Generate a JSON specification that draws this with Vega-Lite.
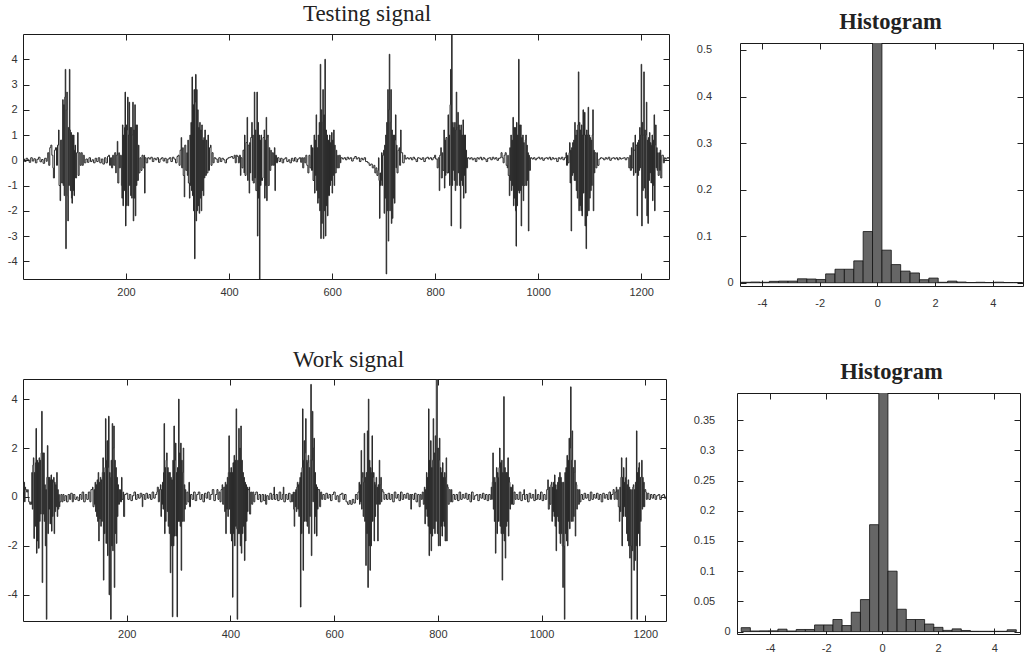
{
"$schema": "https://vega.github.io/schema/vega-lite/v6.json",
"background": "white",
"padding": {"left": 6, "top": 0, "right": 2, "bottom": 0},
"config": {
  "view": {"stroke": "#1a1a1a", "strokeWidth": 1},
  "axis": {"grid": false, "domain": false, "tickSize": -6, "tickColor": "#222", "tickWidth": 1, "labelFont": "Liberation Sans", "labelFontSize": 11, "labelColor": "#333", "title": null, "labelPadding": 12},
  "title": {"font": "Liberation Serif", "fontSize": 23, "fontWeight": "normal", "color": "#222"}
},
"datasets": {
"testing": [
{"x":0,"y":0.05},{"x":3,"y":-0.05},{"x":6,"y":0.08},{"x":9,"y":0.02},{"x":12,"y":-0.08},{"x":15,"y":0.1},{"x":18,"y":-0.03},{"x":21,"y":0.06},{"x":24,"y":-0.1},{"x":27,"y":0.04},{"x":30,"y":0.12},{"x":33,"y":-0.06},{"x":36,"y":0.03},{"x":39,"y":-0.12},{"x":42,"y":0.08},{"x":45,"y":-0.04},{"x":47,"y":0.1},
{"x":48,"y":0.3},{"x":50,"y":-0.2},{"x":52,"y":0.5},{"x":54,"y":0.6},{"x":56,"y":0.2},{"x":58,"y":-0.3},{"x":59,"y":-0.7},{"x":61,"y":0.4},{"x":63,"y":0.5},{"x":65,"y":-0.2},{"x":67,"y":0.6},{"x":69,"y":1.2},{"x":70,"y":-1.0},{"x":72,"y":-1.6},{"x":73,"y":0.8},{"x":75,"y":-0.9},{"x":77,"y":2.4},{"x":78,"y":-1.0},{"x":79,"y":2.2},{"x":80,"y":-1.4},{"x":81,"y":2.5},{"x":82,"y":3.6},{"x":83,"y":-3.5},{"x":84,"y":2.0},{"x":85,"y":2.7},{"x":86,"y":-1.4},{"x":87,"y":-2.4},{"x":88,"y":1.3},{"x":89,"y":-1.0},{"x":90,"y":3.6},{"x":91,"y":1.2},{"x":92,"y":-1.2},{"x":93,"y":1.1},{"x":94,"y":-1.5},{"x":95,"y":-1.7},{"x":96,"y":1.0},{"x":97,"y":-1.2},{"x":98,"y":1.0},{"x":99,"y":-1.4},{"x":100,"y":0.4},{"x":101,"y":0.6},{"x":102,"y":-0.7},{"x":104,"y":0.3},{"x":106,"y":1.1},{"x":107,"y":-0.6},{"x":109,"y":0.3},{"x":111,"y":-0.2},{"x":113,"y":0.3},{"x":115,"y":-0.2},{"x":117,"y":0.2},{"x":119,"y":-0.1},
{"x":122,"y":0.05},{"x":125,"y":-0.08},{"x":128,"y":0.1},{"x":131,"y":-0.05},{"x":134,"y":0.02},{"x":137,"y":-0.1},{"x":140,"y":0.08},{"x":143,"y":-0.05},
{"x":146,"y":0.1},{"x":149,"y":-0.1},{"x":152,"y":0.05},{"x":155,"y":-0.15},{"x":158,"y":0.1},{"x":161,"y":-0.1},{"x":164,"y":0.15},{"x":166,"y":0.2},{"x":168,"y":-0.2},{"x":170,"y":0.1},{"x":172,"y":-0.3},{"x":174,"y":0.2},{"x":176,"y":-0.2},{"x":178,"y":0.3},{"x":180,"y":-0.5},{"x":181,"y":0.2},{"x":183,"y":0.75},{"x":184,"y":-0.9},{"x":186,"y":0.3},{"x":187,"y":-0.3},{"x":189,"y":0.2},{"x":191,"y":-1.0},{"x":192,"y":-1.5},{"x":193,"y":1.4},{"x":194,"y":-1.8},{"x":195,"y":1.0},{"x":196,"y":-1.2},{"x":197,"y":1.3},{"x":198,"y":2.7},{"x":199,"y":-2.6},{"x":200,"y":1.4},{"x":201,"y":-1.8},{"x":202,"y":1.2},{"x":203,"y":2.5},{"x":204,"y":-1.8},{"x":205,"y":1.0},{"x":206,"y":2.3},{"x":207,"y":-1.0},{"x":208,"y":1.3},{"x":209,"y":-1.4},{"x":210,"y":1.3},{"x":211,"y":-1.5},{"x":212,"y":1.0},{"x":213,"y":2.3},{"x":214,"y":-2.4},{"x":215,"y":1.2},{"x":216,"y":-1.5},{"x":217,"y":2.2},{"x":218,"y":-2.2},{"x":219,"y":1.4},{"x":220,"y":-1.0},{"x":221,"y":1.4},{"x":222,"y":-0.8},{"x":224,"y":0.6},{"x":225,"y":-0.5},{"x":227,"y":0.1},{"x":229,"y":-0.4},{"x":231,"y":0.2},{"x":233,"y":-0.3},{"x":235,"y":0.2},{"x":236,"y":-1.3},{"x":237,"y":0.1},{"x":239,"y":-0.1},
{"x":242,"y":0.1},{"x":245,"y":0.05},{"x":248,"y":0.12},{"x":251,"y":-0.05},{"x":254,"y":0.08},{"x":257,"y":0.02},{"x":260,"y":0.1},{"x":263,"y":-0.08},{"x":266,"y":0.05},{"x":269,"y":0.1},{"x":272,"y":-0.03},{"x":275,"y":0.08},{"x":278,"y":-0.1},{"x":281,"y":0.05},{"x":284,"y":0.1},{"x":287,"y":-0.05},{"x":290,"y":0.12},{"x":293,"y":0.05},{"x":296,"y":-0.1},{"x":299,"y":0.15},
{"x":301,"y":0.2},{"x":303,"y":-0.2},{"x":305,"y":0.4},{"x":307,"y":0.9},{"x":308,"y":-0.3},{"x":310,"y":0.5},{"x":311,"y":-0.6},{"x":313,"y":-1.45},{"x":314,"y":0.6},{"x":316,"y":-0.4},{"x":318,"y":0.3},{"x":319,"y":-0.6},{"x":320,"y":0.8},{"x":321,"y":-0.9},{"x":323,"y":-1.5},{"x":324,"y":1.0},{"x":325,"y":-1.0},{"x":326,"y":1.5},{"x":327,"y":-1.2},{"x":328,"y":3.3},{"x":329,"y":-1.4},{"x":330,"y":2.2},{"x":331,"y":-2.0},{"x":332,"y":2.8},{"x":333,"y":-3.9},{"x":334,"y":2.3},{"x":335,"y":3.4},{"x":336,"y":-2.4},{"x":337,"y":2.8},{"x":338,"y":-2.0},{"x":339,"y":2.0},{"x":340,"y":-1.8},{"x":341,"y":1.3},{"x":342,"y":-2.1},{"x":343,"y":1.5},{"x":344,"y":-1.5},{"x":345,"y":1.2},{"x":346,"y":-2.0},{"x":347,"y":1.4},{"x":348,"y":-1.2},{"x":349,"y":0.8},{"x":350,"y":-1.4},{"x":351,"y":0.9},{"x":352,"y":-0.7},{"x":353,"y":1.2},{"x":354,"y":-0.6},{"x":356,"y":0.8},{"x":357,"y":-0.5},{"x":359,"y":1.0},{"x":360,"y":-0.4},{"x":362,"y":0.5},{"x":364,"y":0.6},{"x":365,"y":-0.2},{"x":367,"y":0.3},{"x":369,"y":-0.1},{"x":371,"y":0.1},
{"x":374,"y":0.05},{"x":377,"y":-0.08},{"x":380,"y":0.1},{"x":383,"y":-0.05},{"x":386,"y":0.08},{"x":389,"y":0.02},{"x":392,"y":-0.1},{"x":395,"y":0.05},{"x":398,"y":0.1},{"x":401,"y":0.12},{"x":404,"y":0.15},{"x":407,"y":0.08},
{"x":410,"y":0.2},{"x":412,"y":-0.1},{"x":414,"y":0.2},{"x":416,"y":0.15},{"x":418,"y":-0.1},{"x":420,"y":0.2},{"x":422,"y":-0.6},{"x":423,"y":0.1},{"x":425,"y":-0.3},{"x":427,"y":0.4},{"x":429,"y":-0.5},{"x":430,"y":1.0},{"x":431,"y":-0.6},{"x":433,"y":0.7},{"x":435,"y":1.7},{"x":436,"y":-0.8},{"x":437,"y":0.6},{"x":439,"y":-1.3},{"x":440,"y":0.7},{"x":441,"y":-0.5},{"x":442,"y":0.9},{"x":444,"y":1.5},{"x":445,"y":-0.8},{"x":446,"y":1.0},{"x":447,"y":-0.9},{"x":449,"y":2.7},{"x":450,"y":-0.7},{"x":451,"y":1.2},{"x":452,"y":-1.2},{"x":454,"y":2.7},{"x":455,"y":-3.0},{"x":456,"y":1.5},{"x":457,"y":-1.5},{"x":458,"y":1.0},{"x":459,"y":-4.7},{"x":460,"y":0.8},{"x":461,"y":-1.0},{"x":462,"y":1.0},{"x":463,"y":-0.8},{"x":465,"y":-0.7},{"x":466,"y":0.9},{"x":468,"y":1.2},{"x":469,"y":-1.5},{"x":470,"y":0.8},{"x":471,"y":-1.0},{"x":472,"y":1.7},{"x":473,"y":-1.6},{"x":474,"y":0.9},{"x":475,"y":1.0},{"x":476,"y":-1.0},{"x":478,"y":0.5},{"x":479,"y":-0.4},{"x":481,"y":0.4},{"x":482,"y":-0.2},{"x":484,"y":0.3},{"x":486,"y":-0.2},{"x":488,"y":0.5},{"x":489,"y":-1.2},{"x":490,"y":0.2},{"x":492,"y":-0.1},{"x":494,"y":0.1},
{"x":497,"y":-0.05},{"x":500,"y":0.08},{"x":503,"y":-0.1},{"x":506,"y":0.05},{"x":509,"y":0.1},{"x":512,"y":-0.05},{"x":515,"y":0.02},{"x":518,"y":-0.1},{"x":521,"y":0.08},{"x":524,"y":-0.03},{"x":527,"y":0.1},{"x":530,"y":-0.06},{"x":533,"y":0.05},{"x":536,"y":0.1},{"x":539,"y":-0.08},
{"x":541,"y":0.1},{"x":543,"y":-0.3},{"x":545,"y":0.1},{"x":547,"y":-0.1},{"x":549,"y":0.2},{"x":551,"y":-0.2},{"x":553,"y":-0.5},{"x":555,"y":0.2},{"x":557,"y":-0.3},{"x":559,"y":0.6},{"x":560,"y":-0.4},{"x":562,"y":0.5},{"x":563,"y":-0.8},{"x":565,"y":1.0},{"x":566,"y":-1.3},{"x":567,"y":0.8},{"x":568,"y":-0.6},{"x":569,"y":1.8},{"x":570,"y":-1.2},{"x":571,"y":0.5},{"x":572,"y":-1.7},{"x":573,"y":1.0},{"x":574,"y":-1.5},{"x":575,"y":1.5},{"x":576,"y":-2.0},{"x":577,"y":3.8},{"x":578,"y":-3.1},{"x":579,"y":2.0},{"x":580,"y":-2.5},{"x":581,"y":1.5},{"x":582,"y":2.8},{"x":583,"y":-3.1},{"x":584,"y":1.8},{"x":585,"y":-2.0},{"x":586,"y":4.0},{"x":587,"y":-3.0},{"x":588,"y":1.2},{"x":589,"y":-1.8},{"x":590,"y":1.0},{"x":591,"y":-2.2},{"x":592,"y":0.8},{"x":593,"y":-1.4},{"x":595,"y":1.0},{"x":596,"y":-1.0},{"x":597,"y":0.7},{"x":598,"y":-0.8},{"x":599,"y":1.1},{"x":600,"y":-1.3},{"x":601,"y":0.8},{"x":602,"y":-0.6},{"x":603,"y":1.2},{"x":604,"y":-1.0},{"x":605,"y":0.6},{"x":606,"y":-0.5},{"x":608,"y":0.4},{"x":609,"y":-0.3},{"x":611,"y":0.2},{"x":612,"y":-0.3},{"x":614,"y":0.2},{"x":616,"y":-0.1},{"x":617,"y":0.1},
{"x":620,"y":0.05},{"x":623,"y":0.1},{"x":626,"y":0.02},{"x":629,"y":0.12},{"x":632,"y":0.05},{"x":635,"y":0.1},{"x":638,"y":-0.03},{"x":641,"y":0.08},{"x":644,"y":0.15},{"x":647,"y":0.05},{"x":650,"y":0.1},{"x":653,"y":-0.05},{"x":656,"y":0.08},{"x":659,"y":0.02},{"x":662,"y":0.1},{"x":665,"y":-0.05},
{"x":669,"y":-0.1},{"x":672,"y":-0.2},{"x":675,"y":-0.15},{"x":678,"y":-0.3},{"x":681,"y":-0.2},{"x":683,"y":-0.5},{"x":685,"y":-0.3},{"x":687,"y":-0.6},{"x":689,"y":-0.4},{"x":690,"y":0.1},{"x":691,"y":-0.8},{"x":692,"y":-2.3},{"x":693,"y":-0.5},{"x":694,"y":-1.0},{"x":695,"y":-0.8},{"x":696,"y":0.3},{"x":697,"y":-1.0},{"x":698,"y":0.2},{"x":700,"y":0.4},{"x":701,"y":-2.1},{"x":702,"y":0.6},{"x":703,"y":-1.5},{"x":704,"y":1.0},{"x":705,"y":-4.5},{"x":706,"y":1.5},{"x":707,"y":-2.0},{"x":708,"y":2.8},{"x":709,"y":-3.2},{"x":710,"y":2.0},{"x":711,"y":4.2},{"x":712,"y":-2.0},{"x":713,"y":1.5},{"x":714,"y":2.8},{"x":715,"y":-2.5},{"x":716,"y":1.2},{"x":717,"y":-2.3},{"x":718,"y":1.0},{"x":719,"y":-1.5},{"x":720,"y":1.0},{"x":721,"y":-1.7},{"x":722,"y":0.8},{"x":723,"y":1.8},{"x":724,"y":-0.3},{"x":725,"y":0.6},{"x":726,"y":-0.5},{"x":728,"y":0.4},{"x":730,"y":0.5},{"x":731,"y":-0.2},{"x":733,"y":1.2},{"x":734,"y":0.3},{"x":736,"y":0.3},{"x":737,"y":-0.1},{"x":740,"y":0.2},{"x":742,"y":0.05},{"x":745,"y":0.1},
{"x":748,"y":0.05},{"x":751,"y":0.1},{"x":754,"y":0.02},{"x":757,"y":0.12},{"x":760,"y":0.05},{"x":763,"y":-0.05},{"x":766,"y":0.1},{"x":769,"y":0.08},{"x":772,"y":0.03},{"x":775,"y":0.1},{"x":778,"y":-0.05},{"x":781,"y":0.08},{"x":784,"y":0.12},{"x":787,"y":0.05},{"x":790,"y":0.1},{"x":793,"y":0.02},{"x":796,"y":0.1},
{"x":799,"y":0.2},{"x":801,"y":0.05},{"x":804,"y":-0.3},{"x":806,"y":0.1},{"x":808,"y":-1.2},{"x":809,"y":0.2},{"x":811,"y":0.5},{"x":812,"y":-0.7},{"x":814,"y":0.3},{"x":815,"y":-0.4},{"x":817,"y":1.2},{"x":818,"y":-1.1},{"x":819,"y":0.8},{"x":820,"y":-0.6},{"x":821,"y":0.9},{"x":823,"y":-0.5},{"x":825,"y":1.8},{"x":826,"y":-0.5},{"x":827,"y":1.0},{"x":828,"y":-1.0},{"x":829,"y":2.2},{"x":830,"y":3.6},{"x":831,"y":-2.6},{"x":832,"y":5.0},{"x":833,"y":-1.0},{"x":834,"y":1.5},{"x":835,"y":-0.4},{"x":836,"y":1.3},{"x":837,"y":-0.8},{"x":838,"y":1.5},{"x":839,"y":-1.2},{"x":840,"y":1.2},{"x":841,"y":2.7},{"x":842,"y":-1.0},{"x":843,"y":1.3},{"x":844,"y":1.9},{"x":845,"y":-0.5},{"x":846,"y":1.4},{"x":847,"y":-1.0},{"x":848,"y":1.2},{"x":849,"y":-2.7},{"x":850,"y":1.4},{"x":851,"y":-0.8},{"x":852,"y":1.0},{"x":853,"y":-1.0},{"x":854,"y":1.6},{"x":855,"y":-1.5},{"x":856,"y":1.0},{"x":857,"y":-0.6},{"x":858,"y":1.0},{"x":859,"y":-1.3},{"x":860,"y":0.4},{"x":861,"y":-0.3},{"x":863,"y":0.1},
{"x":866,"y":0.05},{"x":869,"y":0.1},{"x":872,"y":0.02},{"x":875,"y":0.08},{"x":878,"y":-0.05},{"x":881,"y":0.1},{"x":884,"y":0.05},{"x":887,"y":0.12},{"x":890,"y":0.02},{"x":893,"y":0.1},{"x":896,"y":0.05},{"x":899,"y":-0.05},{"x":902,"y":0.08},{"x":905,"y":0.1},{"x":908,"y":0.02},{"x":911,"y":0.12},{"x":914,"y":0.05},{"x":917,"y":0.1},{"x":920,"y":0.0},{"x":923,"y":0.08},{"x":926,"y":0.1},
{"x":928,"y":0.3},{"x":930,"y":0.1},{"x":932,"y":-0.1},{"x":934,"y":0.2},{"x":936,"y":0.3},{"x":938,"y":-0.2},{"x":940,"y":-0.3},{"x":941,"y":0.2},{"x":942,"y":-0.6},{"x":944,"y":-1.4},{"x":945,"y":0.5},{"x":946,"y":-0.8},{"x":947,"y":1.0},{"x":948,"y":-1.2},{"x":949,"y":0.8},{"x":950,"y":-1.0},{"x":951,"y":1.7},{"x":952,"y":-1.8},{"x":953,"y":1.3},{"x":954,"y":-1.5},{"x":955,"y":1.3},{"x":956,"y":-2.0},{"x":957,"y":-3.4},{"x":958,"y":1.5},{"x":959,"y":-1.8},{"x":960,"y":1.0},{"x":961,"y":-1.2},{"x":962,"y":4.0},{"x":963,"y":-1.3},{"x":964,"y":1.4},{"x":965,"y":-1.2},{"x":966,"y":1.4},{"x":967,"y":-2.6},{"x":968,"y":0.9},{"x":969,"y":-1.0},{"x":970,"y":1.0},{"x":971,"y":-1.6},{"x":972,"y":0.7},{"x":973,"y":-1.0},{"x":975,"y":0.8},{"x":976,"y":1.0},{"x":977,"y":-1.0},{"x":978,"y":0.6},{"x":979,"y":-0.8},{"x":980,"y":0.3},{"x":981,"y":-2.8},{"x":982,"y":0.2},{"x":983,"y":-0.4},{"x":985,"y":0.1},
{"x":988,"y":0.05},{"x":991,"y":0.1},{"x":994,"y":0.02},{"x":997,"y":0.08},{"x":1000,"y":0.12},{"x":1003,"y":0.05},{"x":1006,"y":0.1},{"x":1009,"y":0.0},{"x":1012,"y":0.08},{"x":1015,"y":0.1},{"x":1018,"y":0.05},{"x":1021,"y":0.12},{"x":1024,"y":0.02},{"x":1027,"y":0.1},{"x":1030,"y":0.05},{"x":1033,"y":0.08},{"x":1036,"y":-0.05},{"x":1039,"y":0.1},{"x":1042,"y":0.05},{"x":1045,"y":0.12},{"x":1048,"y":0.02},{"x":1051,"y":0.1},
{"x":1054,"y":0.3},{"x":1055,"y":-0.2},{"x":1057,"y":0.2},{"x":1058,"y":-0.1},{"x":1060,"y":0.3},{"x":1061,"y":0.7},{"x":1062,"y":-0.9},{"x":1063,"y":0.4},{"x":1064,"y":-2.8},{"x":1065,"y":0.5},{"x":1066,"y":-0.6},{"x":1067,"y":0.7},{"x":1068,"y":-0.5},{"x":1069,"y":0.8},{"x":1070,"y":-0.8},{"x":1071,"y":1.5},{"x":1072,"y":-0.8},{"x":1073,"y":1.0},{"x":1074,"y":-1.2},{"x":1075,"y":1.2},{"x":1076,"y":-1.5},{"x":1077,"y":1.4},{"x":1078,"y":3.5},{"x":1079,"y":-2.0},{"x":1080,"y":1.5},{"x":1081,"y":-1.8},{"x":1082,"y":1.2},{"x":1083,"y":-2.0},{"x":1084,"y":1.4},{"x":1085,"y":-2.2},{"x":1086,"y":1.0},{"x":1087,"y":2.0},{"x":1088,"y":-1.3},{"x":1089,"y":1.0},{"x":1090,"y":1.9},{"x":1091,"y":-2.6},{"x":1092,"y":1.0},{"x":1093,"y":-3.5},{"x":1094,"y":1.2},{"x":1095,"y":-2.2},{"x":1096,"y":1.0},{"x":1097,"y":2.1},{"x":1098,"y":-2.0},{"x":1099,"y":1.0},{"x":1100,"y":-1.5},{"x":1101,"y":0.9},{"x":1102,"y":-1.2},{"x":1103,"y":0.8},{"x":1104,"y":-1.0},{"x":1105,"y":1.0},{"x":1106,"y":2.0},{"x":1107,"y":-2.0},{"x":1108,"y":0.4},{"x":1109,"y":-0.5},{"x":1110,"y":0.3},{"x":1112,"y":-0.3},{"x":1114,"y":0.3},{"x":1115,"y":-0.2},
{"x":1118,"y":0.05},{"x":1121,"y":0.1},{"x":1124,"y":0.08},{"x":1127,"y":0.02},{"x":1130,"y":0.1},{"x":1133,"y":0.05},{"x":1136,"y":0.12},{"x":1139,"y":0.0},{"x":1142,"y":0.08},{"x":1145,"y":0.1},{"x":1148,"y":0.05},{"x":1151,"y":0.1},{"x":1154,"y":0.02},{"x":1157,"y":0.1},{"x":1160,"y":0.05},{"x":1163,"y":0.08},{"x":1166,"y":0.1},{"x":1169,"y":0.02},{"x":1172,"y":0.1},
{"x":1175,"y":0.1},{"x":1176,"y":-0.3},{"x":1178,"y":0.2},{"x":1179,"y":-0.4},{"x":1181,"y":0.5},{"x":1182,"y":-0.3},{"x":1184,"y":0.7},{"x":1185,"y":-0.6},{"x":1186,"y":0.4},{"x":1188,"y":1.0},{"x":1189,"y":-0.5},{"x":1190,"y":0.6},{"x":1192,"y":-2.2},{"x":1193,"y":0.7},{"x":1194,"y":-0.6},{"x":1195,"y":0.8},{"x":1196,"y":-0.4},{"x":1197,"y":1.3},{"x":1198,"y":-0.3},{"x":1199,"y":1.0},{"x":1200,"y":3.8},{"x":1201,"y":-2.6},{"x":1202,"y":1.5},{"x":1203,"y":-1.2},{"x":1204,"y":1.0},{"x":1205,"y":3.5},{"x":1206,"y":-1.1},{"x":1207,"y":1.2},{"x":1208,"y":-1.5},{"x":1209,"y":1.0},{"x":1210,"y":2.3},{"x":1211,"y":-2.2},{"x":1212,"y":0.8},{"x":1213,"y":-2.5},{"x":1214,"y":0.9},{"x":1215,"y":-0.8},{"x":1216,"y":1.1},{"x":1217,"y":-0.5},{"x":1218,"y":0.7},{"x":1219,"y":-0.9},{"x":1220,"y":0.6},{"x":1221,"y":1.0},{"x":1222,"y":-1.6},{"x":1223,"y":0.8},{"x":1224,"y":-1.0},{"x":1225,"y":1.8},{"x":1226,"y":-2.0},{"x":1227,"y":0.6},{"x":1228,"y":1.4},{"x":1229,"y":-0.3},{"x":1230,"y":0.5},{"x":1231,"y":-0.4},{"x":1232,"y":0.3},{"x":1233,"y":-0.6},{"x":1235,"y":0.3},{"x":1236,"y":-0.4},{"x":1237,"y":0.4},{"x":1238,"y":-0.7},{"x":1240,"y":0.2},{"x":1242,"y":0.2},{"x":1243,"y":-0.1},{"x":1245,"y":0.1},{"x":1247,"y":0.05},{"x":1250,"y":0.1},{"x":1254,"y":0.05}
],
"work": [
{"x":0,"y":0.5},{"x":1,"y":0.2},{"x":2,"y":0.6},{"x":3,"y":-0.2},{"x":4,"y":0.4},{"x":5,"y":0.3},{"x":7,"y":0.2},{"x":9,"y":0.3},{"x":10,"y":0.0},{"x":11,"y":-0.2},{"x":13,"y":-0.3},{"x":15,"y":-0.2},{"x":16,"y":-0.3},
{"x":17,"y":1.0},{"x":18,"y":-0.5},{"x":19,"y":1.3},{"x":20,"y":1.6},{"x":21,"y":-1.7},{"x":22,"y":1.0},{"x":23,"y":-1.2},{"x":24,"y":1.4},{"x":25,"y":2.8},{"x":26,"y":-2.3},{"x":27,"y":1.5},{"x":28,"y":-1.8},{"x":29,"y":1.4},{"x":30,"y":-2.1},{"x":31,"y":1.6},{"x":32,"y":-1.0},{"x":33,"y":1.5},{"x":34,"y":-0.7},{"x":35,"y":1.8},{"x":36,"y":3.5},{"x":37,"y":-3.5},{"x":38,"y":1.8},{"x":39,"y":-0.7},{"x":40,"y":1.8},{"x":41,"y":-1.0},{"x":42,"y":0.5},{"x":43,"y":-2.0},{"x":44,"y":0.3},{"x":45,"y":-5.0},{"x":46,"y":0.8},{"x":47,"y":2.1},{"x":48,"y":-1.5},{"x":49,"y":0.8},{"x":50,"y":-0.5},{"x":51,"y":0.8},{"x":52,"y":-1.1},{"x":53,"y":0.7},{"x":54,"y":0.9},{"x":55,"y":-1.4},{"x":56,"y":0.7},{"x":57,"y":-0.8},{"x":58,"y":0.6},{"x":59,"y":0.8},{"x":60,"y":-1.5},{"x":61,"y":0.6},{"x":62,"y":-0.6},{"x":63,"y":0.5},{"x":64,"y":-0.4},{"x":65,"y":1.0},{"x":66,"y":-0.8},{"x":67,"y":0.3},{"x":68,"y":-0.5},{"x":69,"y":0.1},{"x":70,"y":-0.4},{"x":71,"y":-0.2},
{"x":73,"y":0.1},{"x":75,"y":-0.2},{"x":77,"y":0.1},{"x":79,"y":-0.15},{"x":81,"y":0.05},{"x":84,"y":-0.2},{"x":87,"y":0.1},{"x":90,"y":-0.1},{"x":92,"y":0.15},{"x":95,"y":-0.2},{"x":97,"y":0.1},{"x":100,"y":-0.1},{"x":103,"y":0.0},{"x":106,"y":-0.15},{"x":109,"y":0.1},{"x":112,"y":-0.1},{"x":114,"y":0.2},{"x":117,"y":-0.2},{"x":120,"y":0.1},{"x":123,"y":-0.1},{"x":126,"y":0.2},{"x":129,"y":-0.2},{"x":131,"y":0.3},
{"x":134,"y":0.4},{"x":135,"y":-0.4},{"x":137,"y":0.3},{"x":138,"y":-0.3},{"x":139,"y":0.6},{"x":140,"y":-0.6},{"x":141,"y":0.5},{"x":142,"y":-0.8},{"x":143,"y":0.7},{"x":144,"y":-1.0},{"x":145,"y":1.0},{"x":146,"y":-1.8},{"x":147,"y":0.6},{"x":148,"y":-0.9},{"x":149,"y":0.8},{"x":150,"y":-1.2},{"x":151,"y":0.7},{"x":152,"y":-1.0},{"x":153,"y":1.0},{"x":154,"y":1.6},{"x":155,"y":-3.4},{"x":156,"y":1.0},{"x":157,"y":-1.5},{"x":158,"y":1.2},{"x":159,"y":3.2},{"x":160,"y":-1.9},{"x":161,"y":1.5},{"x":162,"y":2.3},{"x":163,"y":-2.4},{"x":164,"y":1.2},{"x":165,"y":3.3},{"x":166,"y":-4.0},{"x":167,"y":1.0},{"x":168,"y":0.8},{"x":169,"y":-5.0},{"x":170,"y":1.5},{"x":171,"y":-2.0},{"x":172,"y":3.0},{"x":173,"y":-2.2},{"x":174,"y":2.0},{"x":175,"y":2.9},{"x":176,"y":-3.7},{"x":177,"y":1.5},{"x":178,"y":-1.5},{"x":179,"y":1.2},{"x":180,"y":-1.9},{"x":181,"y":0.8},{"x":182,"y":-0.8},{"x":183,"y":0.5},{"x":184,"y":-0.3},{"x":186,"y":0.3},{"x":188,"y":-0.2},{"x":190,"y":0.8},{"x":191,"y":-0.1},{"x":193,"y":0.2},{"x":194,"y":-0.8},{"x":196,"y":0.1},
{"x":199,"y":0.15},{"x":202,"y":-0.1},{"x":205,"y":0.1},{"x":208,"y":-0.15},{"x":211,"y":0.05},{"x":214,"y":0.2},{"x":217,"y":-0.1},{"x":220,"y":0.1},{"x":223,"y":-0.05},{"x":226,"y":0.15},{"x":229,"y":0.0},{"x":230,"y":-0.4},{"x":231,"y":0.1},{"x":234,"y":-0.1},{"x":237,"y":0.15},{"x":240,"y":-0.05},{"x":243,"y":0.1},{"x":246,"y":-0.1},{"x":249,"y":0.2},{"x":252,"y":-0.05},{"x":255,"y":0.1},
{"x":258,"y":0.2},{"x":259,"y":0.4},{"x":261,"y":-0.2},{"x":263,"y":0.3},{"x":265,"y":0.5},{"x":266,"y":-0.8},{"x":267,"y":0.3},{"x":268,"y":-0.3},{"x":269,"y":0.6},{"x":270,"y":-0.5},{"x":271,"y":1.0},{"x":272,"y":3.0},{"x":273,"y":-1.5},{"x":274,"y":1.2},{"x":275,"y":-1.0},{"x":276,"y":1.5},{"x":277,"y":1.8},{"x":278,"y":-0.6},{"x":279,"y":1.2},{"x":280,"y":-1.2},{"x":281,"y":1.0},{"x":282,"y":-1.5},{"x":283,"y":1.0},{"x":284,"y":-3.1},{"x":285,"y":0.8},{"x":286,"y":-2.0},{"x":287,"y":0.7},{"x":288,"y":-4.9},{"x":289,"y":1.5},{"x":290,"y":-2.0},{"x":291,"y":2.9},{"x":292,"y":-1.6},{"x":293,"y":1.5},{"x":294,"y":2.2},{"x":295,"y":-1.6},{"x":296,"y":1.0},{"x":297,"y":-4.9},{"x":298,"y":1.2},{"x":299,"y":-1.0},{"x":300,"y":4.0},{"x":301,"y":-1.0},{"x":302,"y":1.8},{"x":303,"y":-1.2},{"x":304,"y":2.2},{"x":305,"y":-3.0},{"x":306,"y":1.5},{"x":307,"y":-1.0},{"x":308,"y":1.0},{"x":309,"y":2.0},{"x":310,"y":-1.0},{"x":311,"y":0.5},{"x":312,"y":-0.5},{"x":313,"y":0.3},{"x":314,"y":-0.3},{"x":316,"y":0.2},{"x":318,"y":-0.2},{"x":320,"y":0.6},{"x":321,"y":-0.4},
{"x":323,"y":0.1},{"x":326,"y":-0.1},{"x":329,"y":0.2},{"x":332,"y":-0.15},{"x":335,"y":0.1},{"x":338,"y":0.2},{"x":341,"y":-0.1},{"x":344,"y":0.1},{"x":347,"y":-0.2},{"x":350,"y":0.15},{"x":353,"y":-0.05},{"x":356,"y":0.2},{"x":359,"y":-0.1},{"x":362,"y":0.1},{"x":365,"y":0.3},{"x":368,"y":-0.15},{"x":371,"y":0.1},
{"x":374,"y":0.3},{"x":376,"y":-0.1},{"x":378,"y":0.2},{"x":380,"y":-0.2},{"x":382,"y":0.3},{"x":384,"y":0.5},{"x":385,"y":-0.3},{"x":387,"y":0.4},{"x":389,"y":-0.6},{"x":390,"y":0.6},{"x":391,"y":-1.5},{"x":392,"y":0.5},{"x":393,"y":-0.5},{"x":394,"y":0.8},{"x":395,"y":-0.8},{"x":396,"y":1.0},{"x":397,"y":2.5},{"x":398,"y":-0.5},{"x":399,"y":1.0},{"x":400,"y":-1.5},{"x":401,"y":1.2},{"x":402,"y":-1.8},{"x":403,"y":1.0},{"x":404,"y":-4.1},{"x":405,"y":1.4},{"x":406,"y":-1.5},{"x":407,"y":1.7},{"x":408,"y":-2.0},{"x":409,"y":1.5},{"x":410,"y":-1.2},{"x":411,"y":3.6},{"x":412,"y":-1.3},{"x":413,"y":-5.0},{"x":414,"y":1.5},{"x":415,"y":-1.5},{"x":416,"y":2.8},{"x":417,"y":-1.5},{"x":418,"y":2.0},{"x":419,"y":-2.0},{"x":420,"y":2.9},{"x":421,"y":-2.3},{"x":422,"y":1.5},{"x":423,"y":-1.5},{"x":424,"y":1.0},{"x":425,"y":-1.2},{"x":426,"y":0.8},{"x":427,"y":-2.6},{"x":428,"y":0.6},{"x":429,"y":-1.8},{"x":430,"y":0.5},{"x":431,"y":-1.0},{"x":432,"y":0.4},{"x":433,"y":-0.6},{"x":434,"y":0.3},{"x":436,"y":0.4},{"x":437,"y":-0.7},{"x":439,"y":0.2},{"x":441,"y":-0.3},{"x":443,"y":0.2},{"x":445,"y":-0.2},{"x":447,"y":0.1},{"x":449,"y":0.2},
{"x":452,"y":-0.1},{"x":455,"y":0.1},{"x":458,"y":-0.2},{"x":461,"y":0.1},{"x":464,"y":-0.15},{"x":467,"y":0.1},{"x":468,"y":-0.3},{"x":470,"y":0.05},{"x":473,"y":-0.1},{"x":476,"y":0.15},{"x":479,"y":-0.1},{"x":482,"y":0.1},{"x":484,"y":0.4},{"x":485,"y":-0.1},{"x":488,"y":0.1},{"x":491,"y":-0.15},{"x":494,"y":0.2},{"x":497,"y":-0.1},{"x":500,"y":0.1},{"x":502,"y":0.4},{"x":503,"y":-0.2},{"x":506,"y":0.1},{"x":509,"y":-0.1},{"x":512,"y":0.15},{"x":515,"y":-0.2},{"x":518,"y":0.1},
{"x":520,"y":-0.2},{"x":521,"y":0.2},{"x":522,"y":-0.5},{"x":523,"y":-1.2},{"x":524,"y":0.2},{"x":525,"y":-0.4},{"x":526,"y":0.3},{"x":527,"y":-0.6},{"x":528,"y":0.4},{"x":529,"y":0.6},{"x":530,"y":-0.5},{"x":531,"y":0.5},{"x":532,"y":-0.8},{"x":533,"y":0.6},{"x":534,"y":0.8},{"x":535,"y":-4.5},{"x":536,"y":1.0},{"x":537,"y":-1.5},{"x":538,"y":1.2},{"x":539,"y":3.6},{"x":540,"y":-3.0},{"x":541,"y":1.5},{"x":542,"y":2.3},{"x":543,"y":-1.0},{"x":544,"y":1.8},{"x":545,"y":3.2},{"x":546,"y":-1.0},{"x":547,"y":1.5},{"x":548,"y":-1.2},{"x":549,"y":1.4},{"x":550,"y":1.7},{"x":551,"y":-1.5},{"x":552,"y":1.2},{"x":553,"y":-0.8},{"x":554,"y":1.5},{"x":555,"y":4.6},{"x":556,"y":-2.4},{"x":557,"y":1.5},{"x":558,"y":3.5},{"x":559,"y":-0.2},{"x":560,"y":2.0},{"x":561,"y":2.4},{"x":562,"y":-1.5},{"x":563,"y":1.0},{"x":564,"y":-0.8},{"x":565,"y":0.5},{"x":566,"y":-1.6},{"x":567,"y":0.4},{"x":568,"y":-0.5},{"x":569,"y":0.3},{"x":571,"y":0.3},{"x":572,"y":-0.4},{"x":574,"y":0.2},{"x":576,"y":-0.1},
{"x":578,"y":0.1},{"x":581,"y":-0.1},{"x":584,"y":0.15},{"x":587,"y":-0.05},{"x":590,"y":0.1},{"x":593,"y":-0.15},{"x":596,"y":0.1},{"x":599,"y":0.2},{"x":602,"y":-0.1},{"x":605,"y":0.05},{"x":608,"y":-0.2},{"x":611,"y":0.1},{"x":614,"y":0.15},{"x":617,"y":-0.1},{"x":620,"y":0.1},{"x":623,"y":-0.2},{"x":626,"y":-0.3},{"x":629,"y":-0.15},{"x":632,"y":-0.3},{"x":635,"y":-0.1},{"x":638,"y":-0.25},{"x":641,"y":0.1},{"x":644,"y":-0.1},{"x":646,"y":0.2},
{"x":648,"y":0.6},{"x":649,"y":-0.3},{"x":650,"y":0.5},{"x":651,"y":-0.2},{"x":652,"y":1.9},{"x":653,"y":-0.5},{"x":654,"y":0.8},{"x":655,"y":1.0},{"x":656,"y":-0.8},{"x":657,"y":0.6},{"x":658,"y":2.6},{"x":659,"y":-1.0},{"x":660,"y":0.8},{"x":661,"y":-2.8},{"x":662,"y":1.0},{"x":663,"y":-1.5},{"x":664,"y":2.7},{"x":665,"y":-3.7},{"x":666,"y":4.0},{"x":667,"y":-2.0},{"x":668,"y":1.5},{"x":669,"y":-3.0},{"x":670,"y":1.2},{"x":671,"y":-2.0},{"x":672,"y":1.0},{"x":673,"y":2.5},{"x":674,"y":-1.0},{"x":675,"y":0.8},{"x":676,"y":1.0},{"x":677,"y":-1.8},{"x":678,"y":0.6},{"x":679,"y":-0.8},{"x":680,"y":0.5},{"x":681,"y":0.8},{"x":682,"y":-0.3},{"x":683,"y":0.4},{"x":684,"y":-1.8},{"x":685,"y":0.5},{"x":686,"y":-0.3},{"x":687,"y":1.5},{"x":688,"y":-0.3},{"x":689,"y":0.5},{"x":690,"y":0.8},{"x":691,"y":-0.2},{"x":692,"y":0.3},{"x":694,"y":0.2},{"x":696,"y":-0.1},{"x":698,"y":0.1},
{"x":701,"y":-0.1},{"x":704,"y":0.15},{"x":707,"y":-0.1},{"x":710,"y":0.1},{"x":713,"y":-0.2},{"x":716,"y":0.2},{"x":719,"y":-0.05},{"x":722,"y":0.1},{"x":725,"y":-0.15},{"x":728,"y":0.2},{"x":731,"y":-0.1},{"x":734,"y":0.1},{"x":737,"y":-0.05},{"x":740,"y":0.15},{"x":743,"y":-0.1},{"x":746,"y":0.1},{"x":748,"y":-0.5},{"x":749,"y":0.1},{"x":752,"y":-0.1},{"x":755,"y":0.15},{"x":758,"y":-0.2},{"x":761,"y":0.1},{"x":764,"y":-0.4},{"x":766,"y":0.1},{"x":768,"y":-0.1},
{"x":770,"y":0.2},{"x":772,"y":-0.3},{"x":774,"y":0.4},{"x":775,"y":-1.1},{"x":776,"y":0.3},{"x":777,"y":-0.5},{"x":778,"y":1.0},{"x":779,"y":-0.8},{"x":780,"y":0.8},{"x":781,"y":-1.2},{"x":782,"y":3.6},{"x":783,"y":-2.4},{"x":784,"y":1.5},{"x":785,"y":-1.5},{"x":786,"y":2.3},{"x":787,"y":-2.2},{"x":788,"y":1.2},{"x":789,"y":-1.6},{"x":790,"y":1.5},{"x":791,"y":3.2},{"x":792,"y":-1.3},{"x":793,"y":1.8},{"x":794,"y":-1.5},{"x":795,"y":2.5},{"x":796,"y":-1.0},{"x":797,"y":4.8},{"x":798,"y":4.9},{"x":799,"y":-1.5},{"x":800,"y":2.0},{"x":801,"y":-2.0},{"x":802,"y":1.5},{"x":803,"y":2.4},{"x":804,"y":-2.0},{"x":805,"y":1.2},{"x":806,"y":-1.2},{"x":807,"y":1.0},{"x":808,"y":-1.6},{"x":809,"y":1.4},{"x":810,"y":-1.0},{"x":811,"y":0.8},{"x":812,"y":-1.2},{"x":813,"y":1.0},{"x":814,"y":-1.8},{"x":815,"y":0.8},{"x":816,"y":1.6},{"x":817,"y":-1.8},{"x":818,"y":0.5},{"x":819,"y":0.4},{"x":820,"y":-0.3},{"x":822,"y":0.3},{"x":824,"y":-0.2},{"x":826,"y":0.3},{"x":827,"y":-0.2},{"x":829,"y":0.1},
{"x":832,"y":-0.1},{"x":835,"y":0.1},{"x":838,"y":-0.15},{"x":841,"y":0.2},{"x":844,"y":-0.1},{"x":847,"y":0.1},{"x":850,"y":-0.05},{"x":853,"y":0.15},{"x":856,"y":-0.1},{"x":859,"y":0.1},{"x":862,"y":-0.2},{"x":865,"y":0.2},{"x":868,"y":-0.1},{"x":871,"y":0.05},{"x":874,"y":0.1},{"x":877,"y":-0.15},{"x":880,"y":0.1},{"x":883,"y":-0.05},{"x":886,"y":0.15},{"x":889,"y":-0.1},{"x":892,"y":0.1},{"x":895,"y":-0.15},{"x":898,"y":0.1},{"x":901,"y":-0.1},
{"x":903,"y":0.4},{"x":904,"y":-0.1},{"x":905,"y":0.6},{"x":906,"y":1.8},{"x":907,"y":-0.5},{"x":908,"y":0.8},{"x":909,"y":-1.0},{"x":910,"y":0.6},{"x":911,"y":-2.3},{"x":912,"y":0.8},{"x":913,"y":1.2},{"x":914,"y":-1.5},{"x":915,"y":1.0},{"x":916,"y":0.8},{"x":917,"y":-1.0},{"x":918,"y":1.2},{"x":919,"y":2.0},{"x":920,"y":-1.2},{"x":921,"y":1.4},{"x":922,"y":-1.5},{"x":923,"y":1.5},{"x":924,"y":-3.4},{"x":925,"y":1.0},{"x":926,"y":-1.5},{"x":927,"y":4.1},{"x":928,"y":-1.8},{"x":929,"y":1.2},{"x":930,"y":-2.5},{"x":931,"y":1.0},{"x":932,"y":-1.2},{"x":933,"y":1.0},{"x":934,"y":-1.0},{"x":935,"y":1.6},{"x":936,"y":-1.6},{"x":937,"y":0.8},{"x":938,"y":0.6},{"x":939,"y":-0.5},{"x":940,"y":0.4},{"x":942,"y":-0.3},{"x":944,"y":0.5},{"x":945,"y":-0.3},{"x":947,"y":0.2},{"x":949,"y":-0.1},
{"x":951,"y":0.1},{"x":954,"y":-0.1},{"x":957,"y":0.2},{"x":960,"y":-0.15},{"x":963,"y":0.1},{"x":966,"y":0.3},{"x":967,"y":-0.1},{"x":970,"y":0.1},{"x":973,"y":-0.2},{"x":976,"y":0.15},{"x":979,"y":-0.05},{"x":982,"y":0.1},{"x":985,"y":-0.15},{"x":988,"y":0.3},{"x":989,"y":-0.1},{"x":992,"y":0.1},{"x":995,"y":-0.1},{"x":998,"y":0.2},{"x":1001,"y":-0.15},{"x":1004,"y":0.1},{"x":1007,"y":-0.1},
{"x":1010,"y":0.3},{"x":1012,"y":0.7},{"x":1013,"y":-0.5},{"x":1015,"y":0.4},{"x":1016,"y":-0.3},{"x":1018,"y":0.5},{"x":1019,"y":0.6},{"x":1020,"y":-1.0},{"x":1021,"y":0.4},{"x":1022,"y":-0.6},{"x":1023,"y":0.6},{"x":1024,"y":-0.8},{"x":1025,"y":0.9},{"x":1026,"y":-1.2},{"x":1027,"y":0.5},{"x":1028,"y":-2.2},{"x":1029,"y":0.3},{"x":1030,"y":-0.8},{"x":1031,"y":0.6},{"x":1032,"y":-1.0},{"x":1033,"y":0.8},{"x":1034,"y":-1.5},{"x":1035,"y":1.0},{"x":1036,"y":-1.9},{"x":1037,"y":0.8},{"x":1038,"y":-1.5},{"x":1039,"y":0.6},{"x":1040,"y":-2.0},{"x":1041,"y":-3.7},{"x":1042,"y":0.6},{"x":1043,"y":-2.0},{"x":1044,"y":-5.0},{"x":1045,"y":1.0},{"x":1046,"y":-1.5},{"x":1047,"y":1.2},{"x":1048,"y":-1.8},{"x":1049,"y":1.7},{"x":1050,"y":-2.0},{"x":1051,"y":1.5},{"x":1052,"y":-1.0},{"x":1053,"y":2.4},{"x":1054,"y":-1.3},{"x":1055,"y":2.0},{"x":1056,"y":4.5},{"x":1057,"y":-1.0},{"x":1058,"y":1.5},{"x":1059,"y":2.7},{"x":1060,"y":-1.0},{"x":1061,"y":1.2},{"x":1062,"y":-0.8},{"x":1063,"y":1.0},{"x":1064,"y":1.5},{"x":1065,"y":-1.6},{"x":1066,"y":0.6},{"x":1067,"y":0.5},{"x":1068,"y":-0.5},{"x":1069,"y":0.3},{"x":1071,"y":-0.3},{"x":1073,"y":0.3},{"x":1074,"y":-0.2},
{"x":1076,"y":0.1},{"x":1079,"y":-0.1},{"x":1082,"y":0.15},{"x":1085,"y":-0.05},{"x":1088,"y":0.1},{"x":1091,"y":-0.15},{"x":1094,"y":0.2},{"x":1097,"y":-0.1},{"x":1100,"y":0.1},{"x":1103,"y":-0.05},{"x":1106,"y":0.15},{"x":1109,"y":-0.1},{"x":1112,"y":0.1},{"x":1115,"y":-0.2},{"x":1118,"y":0.15},{"x":1121,"y":-0.05},{"x":1124,"y":0.1},{"x":1127,"y":-0.1},{"x":1130,"y":0.2},{"x":1133,"y":-0.1},{"x":1135,"y":0.1},
{"x":1138,"y":0.3},{"x":1140,"y":-0.1},{"x":1142,"y":0.2},{"x":1144,"y":0.4},{"x":1145,"y":-0.1},{"x":1147,"y":0.3},{"x":1148,"y":-0.4},{"x":1150,"y":-1.0},{"x":1151,"y":0.4},{"x":1152,"y":-0.6},{"x":1153,"y":0.8},{"x":1154,"y":1.6},{"x":1155,"y":-2.0},{"x":1156,"y":0.8},{"x":1157,"y":-0.8},{"x":1158,"y":1.2},{"x":1159,"y":-0.4},{"x":1160,"y":0.6},{"x":1161,"y":-0.8},{"x":1162,"y":0.8},{"x":1163,"y":1.6},{"x":1164,"y":-1.5},{"x":1165,"y":0.5},{"x":1166,"y":-1.8},{"x":1167,"y":0.7},{"x":1168,"y":-2.0},{"x":1169,"y":0.4},{"x":1170,"y":-2.5},{"x":1171,"y":0.3},{"x":1172,"y":-2.0},{"x":1173,"y":-5.0},{"x":1174,"y":0.3},{"x":1175,"y":-2.2},{"x":1176,"y":0.4},{"x":1177,"y":0.5},{"x":1178,"y":-3.0},{"x":1179,"y":0.3},{"x":1180,"y":-2.6},{"x":1181,"y":0.6},{"x":1182,"y":-2.0},{"x":1183,"y":2.7},{"x":1184,"y":-5.0},{"x":1185,"y":1.0},{"x":1186,"y":-1.5},{"x":1187,"y":1.2},{"x":1188,"y":1.4},{"x":1189,"y":-2.0},{"x":1190,"y":0.8},{"x":1191,"y":-1.0},{"x":1192,"y":0.8},{"x":1193,"y":1.5},{"x":1194,"y":-0.5},{"x":1195,"y":0.8},{"x":1196,"y":-0.4},{"x":1197,"y":0.6},{"x":1198,"y":-0.4},{"x":1199,"y":0.3},{"x":1201,"y":0.2},{"x":1202,"y":-0.1},{"x":1204,"y":0.15},
{"x":1207,"y":-0.1},{"x":1210,"y":0.1},{"x":1213,"y":-0.05},{"x":1216,"y":0.1},{"x":1219,"y":-0.1},{"x":1222,"y":0.05},{"x":1225,"y":0.1},{"x":1228,"y":-0.1},{"x":1231,"y":0.05},{"x":1234,"y":0.1},{"x":1237,"y":-0.05},{"x":1240,"y":0.05}
],
"h1": [
{"a":-4.72,"b":-4.395,"p":0.001},{"a":-4.395,"b":-4.069,"p":0.0015},{"a":-4.069,"b":-3.744,"p":0.001},{"a":-3.744,"b":-3.419,"p":0.003},{"a":-3.419,"b":-3.094,"p":0.0035},{"a":-3.094,"b":-2.768,"p":0.0035},{"a":-2.768,"b":-2.443,"p":0.0085},{"a":-2.443,"b":-2.118,"p":0.008},{"a":-2.118,"b":-1.792,"p":0.007},{"a":-1.792,"b":-1.467,"p":0.019},{"a":-1.467,"b":-1.142,"p":0.029},{"a":-1.142,"b":-0.816,"p":0.029},{"a":-0.816,"b":-0.491,"p":0.047},{"a":-0.491,"b":-0.166,"p":0.11},{"a":-0.166,"b":0.16,"p":0.56},{"a":0.16,"b":0.485,"p":0.07},{"a":0.485,"b":0.81,"p":0.039},{"a":0.81,"b":1.135,"p":0.025},{"a":1.135,"b":1.461,"p":0.021},{"a":1.461,"b":1.786,"p":0.0065},{"a":1.786,"b":2.111,"p":0.01},{"a":2.111,"b":2.437,"p":0.001},{"a":2.437,"b":2.762,"p":0.0035},{"a":2.762,"b":3.087,"p":0.0015},{"a":3.087,"b":3.413,"p":0.0005},{"a":3.413,"b":3.738,"p":0.001},{"a":3.738,"b":4.063,"p":0.0005},{"a":4.063,"b":4.388,"p":0.0012},{"a":4.388,"b":4.714,"p":0.0005},{"a":4.714,"b":5.039,"p":0.0005}
],
"h2": [
{"a":-5.03,"b":-4.703,"p":0.0065},{"a":-4.703,"b":-4.375,"p":0.001},{"a":-4.375,"b":-4.048,"p":0.0012},{"a":-4.048,"b":-3.721,"p":0.0012},{"a":-3.721,"b":-3.394,"p":0.004},{"a":-3.394,"b":-3.066,"p":0.001},{"a":-3.066,"b":-2.739,"p":0.0035},{"a":-2.739,"b":-2.412,"p":0.0035},{"a":-2.412,"b":-2.084,"p":0.011},{"a":-2.084,"b":-1.757,"p":0.011},{"a":-1.757,"b":-1.43,"p":0.02},{"a":-1.43,"b":-1.102,"p":0.01},{"a":-1.102,"b":-0.775,"p":0.032},{"a":-0.775,"b":-0.448,"p":0.053},{"a":-0.448,"b":-0.12,"p":0.177},{"a":-0.12,"b":0.207,"p":0.42},{"a":0.207,"b":0.534,"p":0.1},{"a":0.534,"b":0.861,"p":0.037},{"a":0.861,"b":1.189,"p":0.02},{"a":1.189,"b":1.516,"p":0.02},{"a":1.516,"b":1.843,"p":0.0125},{"a":1.843,"b":2.171,"p":0.007},{"a":2.171,"b":2.498,"p":0.002},{"a":2.498,"b":2.825,"p":0.0045},{"a":2.825,"b":3.152,"p":0.0018},{"a":3.152,"b":3.48,"p":0.0005},{"a":3.48,"b":3.807,"p":0.0005},{"a":3.807,"b":4.134,"p":0.0005},{"a":4.134,"b":4.462,"p":0.0005},{"a":4.462,"b":4.789,"p":0.003}
]
},
"spacing": 37,
"vconcat": [
{
"spacing": 25,
"hconcat": [
{"spacing": 0, "vconcat": [
{"width": 10, "height": 2, "data": {"values": [{}]}, "mark": {"type": "point", "size": 0, "opacity": 0}, "encoding": {}, "view": {"stroke": null}},
{
"width": 646, "height": 245,
"title": {"text": "Testing signal", "dx": 21, "offset": 7.5},
"data": {"name": "testing"},
"layer": [
{"mark": {"type": "line", "interpolate": "step-after", "color": "#2a2a2a", "strokeWidth": 1, "clip": true},
 "encoding": {
  "x": {"field": "x", "type": "quantitative", "scale": {"domain": [0, 1254], "nice": false, "zero": false}, "axis": {"orient": "bottom", "values": [200,400,600,800,1000,1200], "labelExpr": "'' + datum.value", "labelPadding": 13}},
  "y": {"field": "y", "type": "quantitative", "scale": {"domain": [-4.7, 5.0], "nice": false, "zero": false}, "axis": {"orient": "left", "values": [-4,-3,-2,-1,0,1,2,3,4], "labelExpr": "'' + datum.value"}}
 }},
{"mark": {"type": "point", "opacity": 0, "clip": true},
 "encoding": {
  "x": {"field": "x", "type": "quantitative", "axis": {"orient": "top", "values": [200,400,600,800,1000,1200], "labels": false}},
  "y": {"field": "y", "type": "quantitative", "axis": {"orient": "right", "values": [-4,-3,-2,-1,0,1,2,3,4], "labels": false}}
 }}
],
"resolve": {"axis": {"x": "independent", "y": "independent"}}
}
]},
{"spacing": 0, "vconcat": [
{"width": 10, "height": 10, "data": {"values": [{}]}, "mark": {"type": "point", "size": 0, "opacity": 0}, "encoding": {}, "view": {"stroke": null}},
{
"width": 283, "height": 243,
"title": {"text": "Histogram", "fontSize": 22.5, "fontWeight": "bold", "dx": 9, "offset": 9},
"data": {"name": "h1"},
"layer": [
{"mark": {"type": "rect", "fill": "#666", "stroke": "#111", "strokeWidth": 0.8, "clip": true},
 "encoding": {
  "x": {"field": "a", "type": "quantitative", "scale": {"domain": [-4.76, 5.05], "nice": false, "zero": false}, "axis": {"orient": "bottom", "values": [-4,-2,0,2,4], "labelExpr": "'' + datum.value", "labelPadding": 17}},
  "x2": {"field": "b"},
  "y": {"field": "p", "type": "quantitative", "scale": {"domain": [-0.007, 0.515], "nice": false, "zero": false}, "axis": {"orient": "left", "values": [0,0.1,0.2,0.3,0.4,0.5], "labelExpr": "datum.value == 0 ? '0' : datum.value + '\u00a0\u00a0\u00a0\u00a0\u00a0\u00a0\u00a0\u200b'", "labelPadding": 13}},
  "y2": {"datum": 0}
 }},
{"mark": {"type": "point", "opacity": 0, "clip": true},
 "encoding": {
  "x": {"field": "a", "type": "quantitative", "axis": {"orient": "top", "values": [-4,-2,0,2,4], "labels": false}},
  "y": {"field": "p", "type": "quantitative", "axis": {"orient": "right", "values": [0,0.1,0.2,0.3,0.4,0.5], "labels": false}}
 }}
],
"resolve": {"axis": {"x": "independent", "y": "independent"}}
}
]}
]
},
{
"spacing": 25,
"hconcat": [
{"spacing": 0, "vconcat": [
{"width": 10, "height": 2, "data": {"values": [{}]}, "mark": {"type": "point", "size": 0, "opacity": 0}, "encoding": {}, "view": {"stroke": null}},
{
"width": 643, "height": 242,
"title": {"text": "Work signal", "dx": 4, "offset": 6.5},
"data": {"name": "work"},
"layer": [
{"mark": {"type": "line", "interpolate": "step-after", "color": "#2a2a2a", "strokeWidth": 1, "clip": true},
 "encoding": {
  "x": {"field": "x", "type": "quantitative", "scale": {"domain": [0, 1240], "nice": false, "zero": false}, "axis": {"orient": "bottom", "values": [200,400,600,800,1000,1200], "labelExpr": "'' + datum.value", "labelPadding": 13}},
  "y": {"field": "y", "type": "quantitative", "scale": {"domain": [-5.07, 4.82], "nice": false, "zero": false}, "axis": {"orient": "left", "values": [-4,-2,0,2,4], "labelExpr": "'' + datum.value"}}
 }},
{"mark": {"type": "point", "opacity": 0, "clip": true},
 "encoding": {
  "x": {"field": "x", "type": "quantitative", "axis": {"orient": "top", "values": [200,400,600,800,1000,1200], "labels": false}},
  "y": {"field": "y", "type": "quantitative", "axis": {"orient": "right", "values": [-4,-2,0,2,4], "labels": false}}
 }}
],
"resolve": {"axis": {"x": "independent", "y": "independent"}}
}
]},
{"spacing": 0, "vconcat": [
{"width": 10, "height": 14, "data": {"values": [{}]}, "mark": {"type": "point", "size": 0, "opacity": 0}, "encoding": {}, "view": {"stroke": null}},
{
"width": 283, "height": 241,
"title": {"text": "Histogram", "fontSize": 22.5, "fontWeight": "bold", "dx": 13, "offset": 9},
"data": {"name": "h2"},
"layer": [
{"mark": {"type": "rect", "fill": "#666", "stroke": "#111", "strokeWidth": 0.8, "clip": true},
 "encoding": {
  "x": {"field": "a", "type": "quantitative", "scale": {"domain": [-5.18, 4.92], "nice": false, "zero": false}, "axis": {"orient": "bottom", "values": [-4,-2,0,2,4], "labelExpr": "'' + datum.value", "labelPadding": 14}},
  "x2": {"field": "b"},
  "y": {"field": "p", "type": "quantitative", "scale": {"domain": [-0.004, 0.395], "nice": false, "zero": false}, "axis": {"orient": "left", "values": [0,0.05,0.1,0.15,0.2,0.25,0.3,0.35], "labelExpr": "datum.value == 0 ? '0' : datum.value + '\u00a0\u00a0\u00a0\u00a0\u00a0\u200b'", "labelPadding": 13}},
  "y2": {"datum": 0}
 }},
{"mark": {"type": "point", "opacity": 0, "clip": true},
 "encoding": {
  "x": {"field": "a", "type": "quantitative", "axis": {"orient": "top", "values": [-4,-2,0,2,4], "labels": false}},
  "y": {"field": "p", "type": "quantitative", "axis": {"orient": "right", "values": [0,0.05,0.1,0.15,0.2,0.25,0.3,0.35], "labels": false}}
 }}
],
"resolve": {"axis": {"x": "independent", "y": "independent"}}
}
]}
]
}
]
}
